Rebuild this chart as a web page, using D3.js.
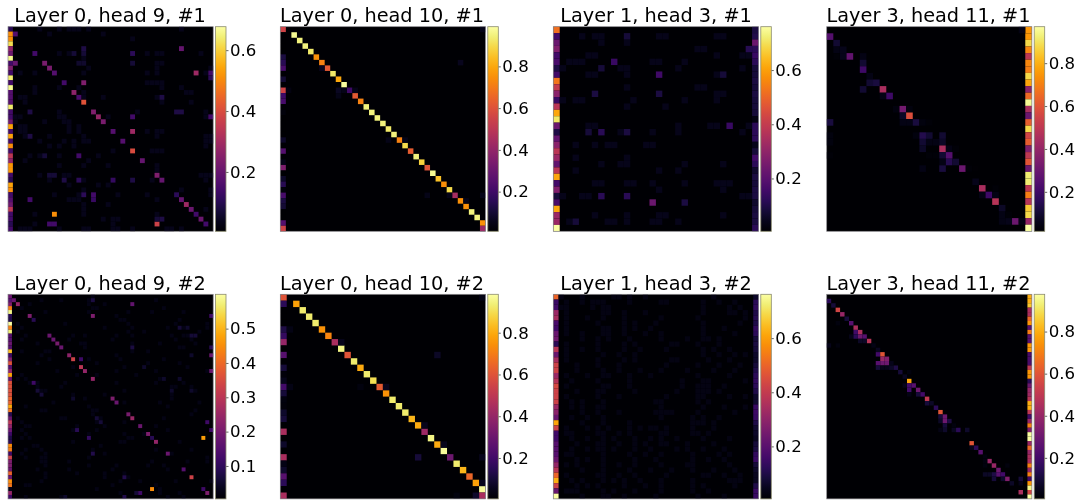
<!DOCTYPE html>
<html><head><meta charset="utf-8">
<script src="https://cdn.jsdelivr.net/npm/d3@7/dist/d3.min.js"></script>
<style>html,body{margin:0;padding:0;background:#fff}svg{display:block;filter:blur(.35px)}text{font-family:"DejaVu Sans",sans-serif;fill:#000}</style>
</head><body><div id="c"></div><script>
const titles=["Layer 0, head 9, #1","Layer 0, head 10, #1","Layer 1, head 3, #1","Layer 3, head 11, #1","Layer 0, head 9, #2","Layer 0, head 10, #2","Layer 1, head 3, #2","Layer 3, head 11, #2"];
const gridSizes=[42,37,32,31,52,32,39,46];
const colorDomains=[[.005,.677],[.01,.99],[.005,.76],[.016,.97],[.004,.6],[.004,.984],[.006,.762],[.005,.977]];
const colorTicks=[[.2,.4,.6],[.2,.4,.6,.8],[.2,.4,.6],[.2,.4,.6,.8],[.1,.2,.3,.4,.5],[.2,.4,.6,.8],[.2,.4,.6],[.2,.4,.6,.8]];

// stripes: values per row in the first or last column
const p0Col0=[.1,.51,.51,.62,.27,.21,.66,.14,.24,.14,.64,.14,.66,.17,.17,.17,.64,.14,.14,.21,.54,.14,.54,.14,.51,.14,.34,.27,.52,.52,.14,.1,.54,.51,.14,.17,.21,.34,.14,.14,.1,.14];
const p1Col0=[.55,0,0,0,0,.12,.15,.22,0,.1,0,.55,.2,.22,0,.03,0,0,0,0,.08,0,.25,0,.05,.35,0,.08,.15,.03,.22,.12,.1,0,0,.25,.55];
const p2Col0=[.52,.156,.23,.27,.156,.17,.096,.156,.53,.4,.29,.14,.38,.61,.71,.23,.096,.216,.29,.38,.32,.216,.38,.61,.156,.27,.08,.17,.61,.32,.32,.76];
const p2ColLast=[.09,.1,.23,.12,.14,.12,.08,.08,.09,.08,.09,.08,.08,.08,.03,.12,.12,.12,.04,.08,.155,.12,.065,.09,.08,.09,.09,.065,.08,.09,.09,.12];
const p3ColLast=[.75,.75,.88,.72,.5,.72,.7,.88,.78,.38,.65,.95,.45,.3,.62,.88,.55,.62,.35,.5,.6,.3,.92,.92,.5,.7,.48,.85,.88,.4,1];
const p4Col0=[.18,.15,.21,.43,.58,.09,.08,.6,.43,.57,.15,.15,.18,.15,.51,.12,.21,.36,.15,.24,.48,.18,.36,.36,.36,.36,.39,.39,.48,.42,.09,.18,.3,.24,.18,.12,.075,.09,.45,.43,.12,.33,.21,.21,.18,.39,.18,.45,.42,.03,.24,.12];
const p5Col0=[.6,.15,0,0,0,.12,.17,.4,0,.25,0,.1,.02,.05,.2,.1,.03,.02,.08,.1,0,.45,.01,.08,0,.45,.04,.08,.25,.15,0,.45];
const p6Col0=[.5,.14,.155,.32,.345,.17,.155,.23,.245,.12,.38,.23,.345,.42,.42,.32,.37,.44,.42,.42,.42,.32,.29,.23,.61,.42,.155,.155,.195,.195,.195,.23,.31,.38,.5,.625,.42,.23,.76];
const p6ColLast=[.06,.12,.13,.1,.11,.1,.13,.12,.08,.09,.08,.06,.06,.08,.1,.12,.13,.12,.1,.06,.07,.14,.15,.14,.1,.07,.06,.05,.08,.09,.13,.14,.08,.06,.05,.05,.1,.14,.14];
const p7ColLast=[.8,.8,.85,.45,.45,.65,.75,.25,.7,.25,.25,.75,.75,.22,.22,.22,.5,.75,.75,.15,.3,.4,.42,.48,.8,.8,.5,.2,.4,.7,.35,.97,.97,.4,.65,.4,.45,.45,.7,.4,.7,.2,.75,.95,.55,.97];

// diagonal strengths, starting at row 1, col = row + 1
const p1Diag=[.97,.95,.95,.93,.75,.72,.62,.93,.8,.98,.2,.62,.72,.95,.95,.95,.95,.93,.95,.72,.9,.63,.95,.88,.6,.97,.85,.75,.9,.45,.75,.75,.95,.95,.75];
const p5Diag=[.78,.93,.93,.93,.75,.72,.45,.95,.6,.93,.8,.93,.9,.62,.75,.93,.93,.93,.82,.8,.42,.95,.8,.97,.3,.93,.82,.65,.78,.97];

// other visible cells: [row,col,value]
const p0Cells=[[1,1,.17],[7,7,.23],[8,8,.23],[9,9,.17],[11,11,.14],[11,15,.24],[13,13,.26],[14,14,.15],[15,15,.41],[17,17,.24],[18,18,.275],[19,19,.23],[21,21,.17],[21,25,.29],[23,23,.17],[25,25,.395],[27,27,.195],[30,30,.24],[31,31,.195],[34,34,.105],[35,35,.195],[36,36,.29],[37,37,.205],[38,38,.14],[39,39,.205],[40,40,.14],[9,38,.29],[9,41,.14],[10,41,.105],[4,35,.195],[5,25,.105],[5,5,.14],[4,15,.085],[35,4,.14],[34,17,.14],[35,17,.125],[34,15,.105],[38,9,.51],[40,30,.375],[39,30,.07],[39,31,.085],[40,8,.14],[40,9,.14],[18,25,.14],[17,34,.085],[17,35,.085],[18,41,.14],[31,11,.085],[31,14,.105],[31,21,.12],[31,25,.085],[26,14,.14],[26,7,.07],[22,4,.085],[17,4,.085],[14,31,.085],[7,1,.2],[30,8,.07],[30,9,.07],[5,15,.07],[5,13,.07],[7,14,.06],[7,15,.06],[7,25,.07]];
const p1Cells=[[36,36,.42],[6,32,.06],[11,10,.07],[11,11,.05],[12,10,.05],[11,1,.04],[20,19,.05],[20,22,.05],[30,26,.05],[30,30,.05],[30,36,.05],[0,36,.05],[7,7,.06],[11,13,.05],[31,33,.05]];
const p2Cells=[[5,9,.14],[7,16,.155],[10,6,.09],[10,16,.09],[16,5,.08],[16,7,.115],[16,11,.09],[15,27,.14],[26,7,.115],[26,11,.115],[27,15,.23],[27,20,.09],[7,26,.08],[3,30,.11],[1,11,.08],[6,7,.08],[30,3,.08]];
const p3Cells=[[1,0,.25],[2,1,.1],[3,1,.05],[3,2,.06],[4,1,.03],[4,2,.06],[4,3,.28],[4,5,.05],[5,5,.1],[6,5,.2],[7,6,.05],[8,6,.1],[8,7,.12],[9,5,.1],[9,8,.45],[10,8,.05],[10,9,.2],[12,10,.04],[12,11,.32],[12,12,.04],[13,11,.08],[13,12,.58],[14,11,.05],[14,12,.05],[14,13,.12],[14,14,.04],[14,15,.03],[14,0,.12],[16,13,.04],[16,14,.14],[16,15,.1],[16,17,.1],[17,14,.1],[17,15,.05],[17,16,.05],[17,17,.08],[18,14,.08],[18,17,.45],[18,18,.05],[18,19,.03],[19,15,.03],[19,16,.03],[19,17,.1],[19,18,.25],[20,17,.05],[20,18,.15],[20,19,.1],[21,14,.05],[21,17,.12],[21,20,.3],[21,21,.03],[21,22,.02],[23,22,.06],[24,23,.45],[25,23,.05],[25,24,.2],[25,25,.05],[24,25,.03],[26,25,.48],[27,26,.08],[28,26,.05],[28,27,.03],[29,26,.05],[29,27,.06],[29,28,.3],[29,29,.05],[16,0,.04],[17,0,.04],[19,0,.03],[0,29,.05]];
const p4Cells=[[1,1,.18],[2,2,.24],[5,5,.21],[6,6,.09],[10,10,.18],[11,11,.18],[12,12,.2],[13,13,.18],[15,15,.23],[16,16,.33],[16,18,.12],[18,18,.3],[19,19,.24],[21,21,.24],[26,26,.21],[27,27,.18],[30,30,.2],[31,31,.25],[33,33,.18],[35,35,.21],[36,36,.09],[37,37,.24],[40,40,.18],[44,44,.15],[46,46,.33],[36,49,.47],[49,36,.45],[49,49,.12],[50,50,.21],[2,31,.17],[5,21,.21],[1,21,.07],[22,6,.12],[5,51,.12],[13,51,.09],[15,51,.18],[19,51,.18],[34,51,.12],[32,50,.12],[34,17,.09],[36,20,.1],[40,21,.08],[50,32,.06],[50,33,.12],[51,29,.08],[46,29,.08],[8,43,.06],[8,45,.05],[10,46,.06],[10,47,.06],[13,31,.07],[15,46,.05],[51,14,.05],[18,34,.05],[21,39,.05],[21,43,.05],[24,7,.06],[25,8,.06],[24,41,.05],[24,46,.05],[26,16,.05],[31,22,.06],[32,23,.06]];
const p5Cells=[[31,31,.45],[9,24,.07],[25,21,.1],[31,30,.08],[7,9,.05],[14,16,.05],[20,22,.05],[23,25,.05],[25,31,.05],[0,31,.04],[5,1,.04],[14,1,.04],[14,12,.03],[29,31,.05],[31,27,.03]];
const p7Cells=[[1,0,.15],[2,1,.1],[3,2,.55],[4,3,.4],[5,4,.1],[6,5,.25],[7,6,.45],[8,7,.45],[8,6,.2],[9,7,.3],[9,8,.25],[9,5,.05],[9,6,.15],[10,9,.48],[10,8,.07],[10,7,.07],[11,10,.04],[12,11,.06],[13,11,.2],[13,12,.6],[14,12,.4],[14,13,.35],[15,11,.25],[15,12,.3],[15,13,.3],[15,14,.05],[16,11,.1],[16,12,.05],[16,13,.05],[16,14,.07],[16,15,.12],[17,16,.1],[18,17,.06],[19,18,.78],[17,18,.03],[20,17,.05],[20,18,.2],[20,19,.25],[21,18,.2],[21,20,.3],[22,20,.1],[22,21,.2],[22,18,.04],[23,22,.5],[24,22,.1],[24,23,.07],[25,24,.15],[26,25,.6],[27,25,.1],[27,26,.3],[28,25,.07],[28,26,.3],[28,27,.12],[30,26,.08],[30,25,.04],[30,28,.06],[30,29,.15],[30,31,.08],[29,26,.1],[29,28,.03],[33,32,.6],[34,32,.05],[34,33,.15],[35,34,.25],[36,35,.03],[37,36,.4],[37,35,.03],[38,37,.4],[38,35,.03],[39,38,.3],[40,35,.07],[40,36,.07],[40,37,.12],[40,38,.25],[40,39,.2],[41,37,.1],[41,39,.08],[41,40,.35],[42,41,.07],[41,43,.1],[42,43,.05],[44,43,.45],[11,0,.05],[11,2,.03],[6,2,.03],[38,40,.03]];

// faint background cells: [row,[cols]] at one level per panel
const p0Faint=[[0,[6,10,12,13,14,16,35]],[1,[8,19]],[2,[25]],[5,[10,12,28,30,31,39]],[6,[15]],[7,[30,31]],[8,[16,30,41]],[9,[2,5,15,28,30,40]],[11,[28,29,30,31]],[12,[5,10,14,31,35]],[13,[5,15,36,37]],[14,[2,3,15,19,30]],[15,[3,31,37]],[17,[10,26,40]],[18,[1,2,10,11,20,40]],[19,[1,7,11,12]],[20,[2,3,12,14]],[21,[2,3,12,14,28,30,31]],[22,[3,8,15,30,40,41]],[23,[6,11,13,15,16,40,41]],[24,[8,10,13,40]],[25,[21,29,30,31]],[26,[4,6,10,18]],[27,[3,16]],[28,[10,15,20,30]],[29,[30]],[30,[6,11,12,30,39,40,41]],[31,[8,15,29,40]],[32,[12,18,20]],[33,[15,35,41]],[34,[9,14,22,28,41]],[35,[12,13,14,30]],[36,[15,20]],[37,[15,37,40]],[38,[5,15,30]],[39,[19,21,22]],[40,[5,21]],[41,[2,3,4,10,15,16,21,22,25,32,33,35]]];
const p2Faint=[[1,[4,6,7,16,17,25,26]],[2,[7,11]],[3,[22,23]],[4,[5,6,25,29,30]],[5,[2,3,4,15,16,20]],[6,[1,10,11,19,29]],[7,[5,6,11,25]],[9,[11,22,23]],[10,[25,26]],[11,[1,3,4,12,20,25]],[12,[11,17]],[15,[5,6,19,24,25,30]],[16,[10,15,19,29]],[18,[3,6,8,9,14,15]],[20,[3,11]],[21,[7,10,11,20,26]],[22,[3,16,19]],[24,[6,7,11,12,15,20,25,26,27]],[25,[16,26]],[26,[1,4,5,29,30]],[29,[6,11,16,17,26]],[30,[2,8,9,11,15,16,19]]];
const p4Faint=[[0,[21]],[1,[8,13,20,37]],[2,[5,20,24]],[3,[3,21,22,39]],[4,[9,20,30,36,44]],[5,[27]],[6,[28,29,43]],[7,[2,14,30,42,50]],[8,[3,24,31,40,44,50]],[9,[2,30,34,48]],[10,[4,16,19,27,31,41,44,45]],[11,[3,15,26,42,46]],[12,[7,18,19,31,38,47]],[13,[19,43,44]],[14,[3,9,10,31,35]],[15,[8,27]],[16,[10,20,28,39]],[17,[7,22,35,43]],[18,[16,29,45]],[19,[12,27,37,50]],[20,[3,17,22,32]],[21,[2,4,38]],[22,[5,7,14,27,37,44]],[23,[7,13,41,42,46]],[24,[8,9,29,47]],[25,[16,24,41]],[26,[19,41]],[27,[11,29,38,48]],[28,[4,20,40]],[29,[8,9,21,22,47]],[30,[21,46]],[31,[2,13,14,23,39]],[32,[3,22,29]],[33,[4,5,17,24,37]],[34,[3,16,22,40]],[35,[4,20,29,34]],[36,[3,5,30,31]],[37,[16,28,29,43]],[38,[6,7,23]],[39,[4,8,21,37,46]],[40,[3,9,24,41]],[41,[4,8,9,20,50]],[42,[8,9,15,36,45,50]],[43,[9,20,27,35,39]],[44,[7,15,26,40]],[45,[9,17,24,29]],[46,[9,24,30]],[47,[8,28,33,42,51]],[48,[4,5,26,37]],[49,[22,38]],[50,[28,38,43]],[51,[4,13,40,44]]];
const p6Faint=[[0,[1,5,11,12,14,17,30]],[1,[2,5,7,8,9,14,20,21,28,31,34]],[2,[1,2,7,9,10,28,33,35]],[3,[2,9,10,13,17,28,33,34,36]],[4,[2,6,9,13,20,27,36]],[5,[2,8,13,15,19,28,35]],[6,[2,9,10,13,15,18,28,32]],[7,[2,5,9,10,13,17,20,28,34]],[8,[5,8,10,14,20,25,28,29,31]],[9,[2,8,13,15,22,23,27,31]],[10,[2,5,8,13,16,21,28,30,33]],[11,[2,9,12,15,28,31,34,36]],[12,[2,8,13,15,22,23,29,33]],[13,[4,8,12,21,27,31,35]],[14,[4,9,12,16,20,25,30,34]],[15,[2,6,9,10,14,18,27,33]],[16,[3,8,14,24,28,29,36]],[17,[2,9,10,14,24,27,28,29,32]],[18,[4,8,9,15,23,27,28,29,31]],[19,[2,8,12,21,27,28,33,36]],[20,[3,5,9,19,20,27,29]],[21,[3,5,8,9,20,28,32,36]],[22,[5,8,12,19,20,21,22,27,34]],[23,[3,6,9,20,26,28,31]],[24,[5,9,14,26,27,28,30]],[25,[2,6,8,10,14,16,18,19,21,26,30]],[26,[2,3,8,9,12,14,20,21,26,27,29]],[27,[3,6,9,11,15,18,20,23,28,33]],[28,[4,8,9,12,15,17,20,21,25,30]],[29,[3,6,8,9,11,15,18,23,25,28,32]],[30,[2,3,9,14,17,20,26,31,33]],[31,[4,6,9,15,19,26,29,32]],[32,[2,4,9,12,15,20,25,26,33]],[33,[5,9,14,18,22,26,30,34]],[34,[2,8,9,12,15,21,28,29,32,35]],[35,[3,5,9,11,13,16,20,26,33,34,35]],[36,[4,6,8,13,17,20,26,28,34]],[37,[2,3,4,9,11,15,20,26,29]],[38,[5,9,10,13,19,27,32]]];

const stripes=[[p0Col0,0],[p1Col0,0],[p2Col0,0],[p3ColLast,30],[p4Col0,0],[p5Col0,0],[p6Col0,0],[p7ColLast,45]];
const extraStripes=[null,null,[p2ColLast,31],null,null,null,[p6ColLast,38],null];
const diagonals=[null,p1Diag,null,null,null,p5Diag,null,null];
const extraCells=[p0Cells,p1Cells,p2Cells,p3Cells,p4Cells,p5Cells,[],p7Cells];
const faintCells=[p0Faint,null,p2Faint,null,p4Faint,null,p6Faint,null];
const faintLevels=[.035,0,.04,0,.025,0,.03,0];

const frameLeft=[8,280.3,553.3,826.7], titleCenters=[110,382,656,928.5], frameW=205.2, cbGap=2.3, cbW=10.5;
const rowTop=[26.7,294.3], frameH=204.6;

const W=1078,H=500;
const svg=d3.select("#c").append("svg").attr("width",W).attr("height",H).attr("viewBox",`0 0 ${W} ${H}`);
const defs=svg.append("defs");
const gradStops=d3.range(0,1.0001,.05);
const g0=defs.append("linearGradient").attr("id","inf").attr("x1",0).attr("x2",0).attr("y1",1).attr("y2",0);
g0.selectAll("stop").data(gradStops).join("stop").attr("offset",d=>d).attr("stop-color",d=>d3.interpolateInferno(d));

titles.forEach((title,i)=>{
  const n=gridSizes[i], col=i%4, row=Math.floor(i/4);
  const x0=frameLeft[col], y0=rowTop[row];
  const xs=d3.scaleBand().domain(d3.range(n)).range([x0,x0+frameW]);
  const ys=d3.scaleBand().domain(d3.range(n)).range([y0,y0+frameH]);
  const color=d3.scaleSequential(d3.interpolateInferno).domain(colorDomains[i]);
  const cells=[];
  const [sv,sc]=stripes[i];
  sv.forEach((v,r)=>cells.push([r,sc,v]));
  if(extraStripes[i]) extraStripes[i][0].forEach((v,r)=>cells.push([r,extraStripes[i][1],v]));
  if(diagonals[i]) diagonals[i].forEach((v,k)=>cells.push([k+1,k+2,v]));
  if(faintCells[i]) faintCells[i].forEach(([r,cs])=>cs.forEach(c=>cells.push([r,c,faintLevels[i]])));
  extraCells[i].forEach(c=>cells.push(c));
  const g=svg.append("g");
  g.append("rect").attr("x",x0).attr("y",y0).attr("width",frameW).attr("height",frameH).attr("fill",color(colorDomains[i][0]));
  g.selectAll("rect.c").data(cells).join("rect").attr("class","c")
    .attr("x",d=>xs(d[1])).attr("y",d=>ys(d[0])).attr("width",xs.bandwidth()).attr("height",ys.bandwidth())
    .attr("fill",d=>color(d[2]));
  g.append("rect").attr("x",x0).attr("y",y0).attr("width",frameW).attr("height",frameH).attr("fill","none").attr("stroke","#8c8a90").attr("stroke-width",.7);
  g.append("text").attr("x",titleCenters[col]).attr("y",y0-4.6).attr("text-anchor","middle").attr("font-size",19.3).text(title);
  // colour bar
  const cx=x0+frameW+cbGap;
  g.append("rect").attr("x",cx).attr("y",y0).attr("width",cbW).attr("height",frameH).attr("fill","url(#inf)");
  const ax=d3.scaleLinear().domain(colorDomains[i]).range([y0+frameH,y0]);
  const a=g.append("g").attr("transform",`translate(${cx+cbW},0)`).call(d3.axisRight(ax).tickValues(colorTicks[i]).tickSize(2.5).tickPadding(1.5).tickFormat(d3.format(".1f")));
  a.selectAll("text").attr("font-size",16.6).attr("font-family",null);
  a.selectAll("line").attr("stroke","#222").attr("stroke-width",.7);
  a.select(".domain").remove();
  g.append("rect").attr("x",cx).attr("y",y0).attr("width",cbW).attr("height",frameH).attr("fill","none").attr("stroke","#8a8a6e").attr("stroke-width",.8);
});
</script></body></html>
